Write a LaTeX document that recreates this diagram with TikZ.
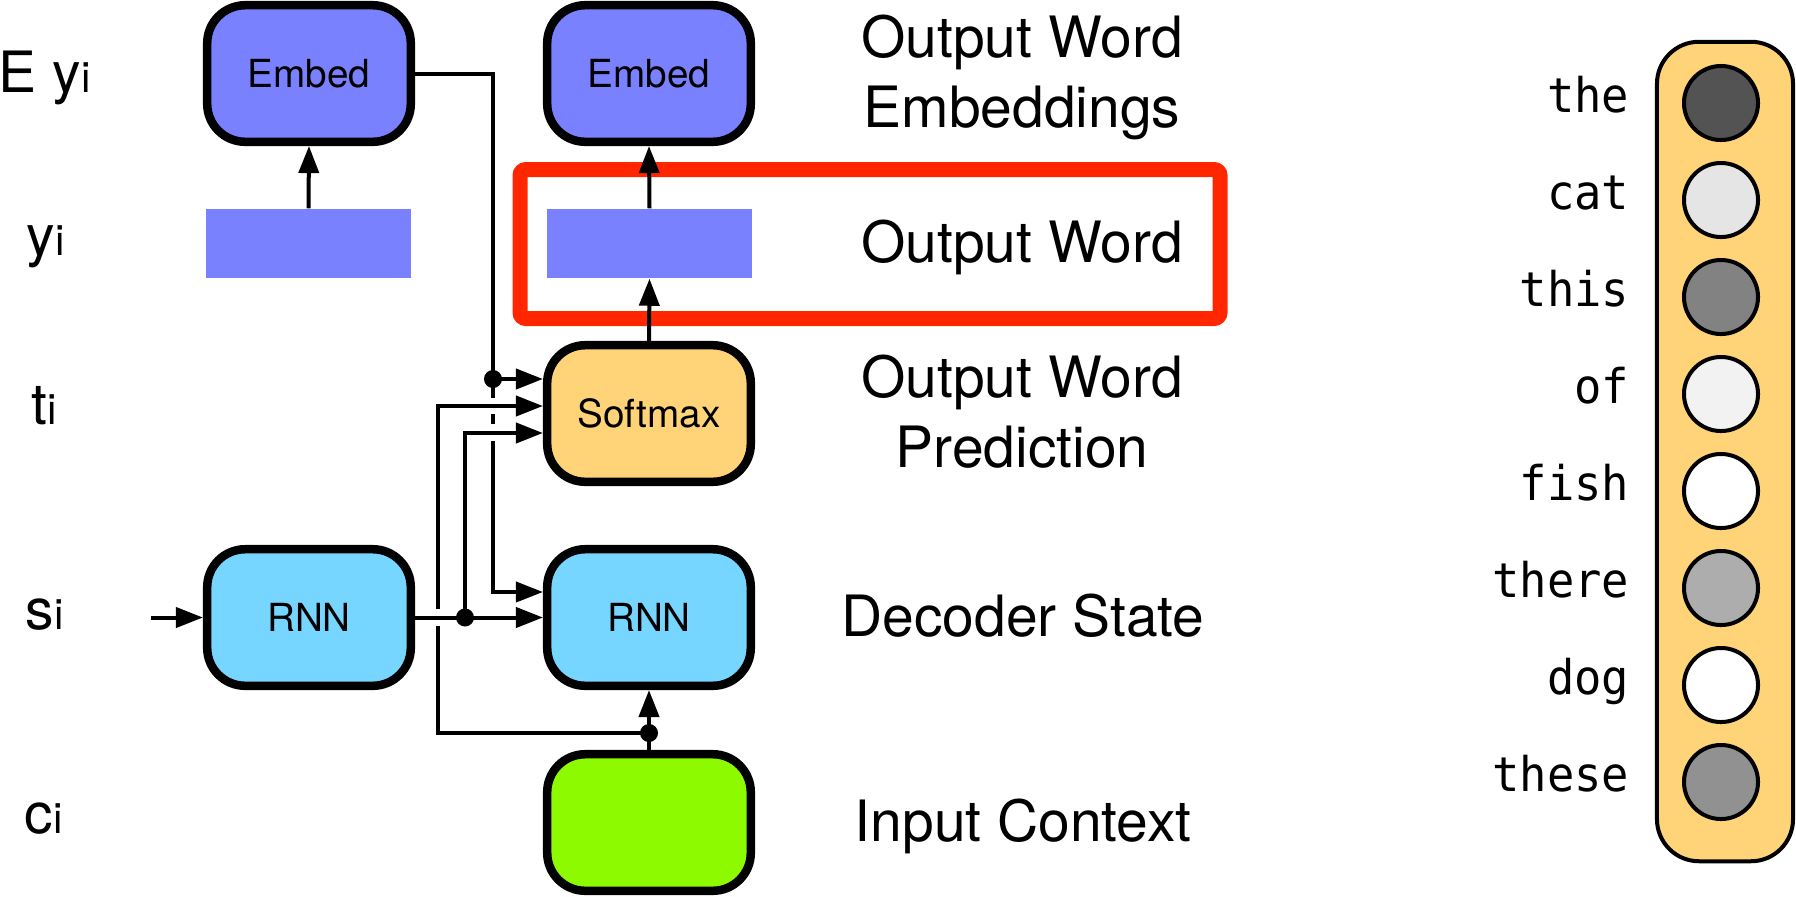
\documentclass[tikz,border=0pt]{standalone}
\usepackage{fontspec}
\setmainfont{TeX Gyre Heros}
\newfontfamily\monoft[FakeStretch=0.95]{DejaVu Sans Mono}
\usetikzlibrary{arrows.meta}
\definecolor{orchid}{HTML}{7A81FF}
\definecolor{skyc}{HTML}{76D6FF}
\definecolor{cantaloupe}{HTML}{FFD479}
\definecolor{limeg}{HTML}{8EFA00}
\definecolor{redc}{HTML}{FF2600}
\tikzset{
  blk/.style={draw=black, line width=0.085cm, rounded corners=0.38cm,
    minimum width=2.035cm, minimum height=1.365cm, inner sep=0pt,
    font=\fontsize{11}{13}\selectfont},
  vec/.style={fill=orchid, minimum width=2.05cm, minimum height=0.69cm, inner sep=0pt},
  conn/.style={line width=0.04cm},
  arr/.style={-{Triangle[length=0.27cm,width=0.2cm]}},
  lab/.style={anchor=base, inner sep=0pt, font=\fontsize{16.2}{19}\selectfont},
  var/.style={anchor=base west, inner sep=0pt, font=\fontsize{16.2}{19}\selectfont},
  word/.style={anchor=base east, inner sep=0pt, font=\monoft\fontsize{13.6}{16}\selectfont},
  cell/.style={circle, draw=black, line width=0.04cm, minimum size=0.74cm, inner sep=0pt},
  gapmark/.style={fill=white},
  junction/.style={fill=black},
}
\newcommand{\sub}[1]{{\fontsize{12}{14}\selectfont #1}}
\begin{document}
\begin{tikzpicture}[x=0.01cm, y=-0.01cm]
\useasboundingbox (0,0) rectangle (1796,896);

% left variable labels
\node[var] (lEy) at (-2,92) {E y\sub{i}};
\node[var] (ly) at (26,255) {y\sub{i}};
\node[var] (lt) at (31,424) {t\sub{i}};
\node[var] (ls) at (25,629) {s\sub{i}};
\node[var] (lc) at (24,833) {c\sub{i}};

% red highlight
\draw[draw=redc, line width=0.15cm, rounded corners=0.06cm] (520,169.5) rectangle (1220,318.5);

% boxes
\node[blk, fill=orchid] (emL) at (309,73.5) {Embed};
\node[blk, fill=orchid] (emR) at (649,73.5) {Embed};
\node[vec] (yL) at (308.5,243.5) {};
\node[vec] (yR) at (649.5,243.5) {};
\node[blk, fill=cantaloupe] (sm) at (649,413.5) {Softmax};
\node[blk, fill=skyc] (rnnL) at (309,617.5) {RNN};
\node[blk, fill=skyc] (rnnR) at (649,617.5) {RNN};
\node[blk, fill=limeg] (ctx) at (649,822.5) {};

% right descriptions
\node[lab] (t1a) at (1022,57) {Output Word};
\node[lab] (t1b) at (1022,127) {Embeddings};
\node[lab] (t2) at (1022,262) {Output Word};
\node[lab] (t3a) at (1022,397) {Output Word};
\node[lab] (t3b) at (1022,467) {Prediction};
\node[lab] (t4) at (1023,636) {Decoder State};
\node[lab] (t5) at (1023,841) {Input Context};

% junction coordinates
\coordinate (ja) at (493,379);
\coordinate (aTurn) at (493,592);
\coordinate (jb) at (465,617.5);
\coordinate (bTurn) at (465,433);
\coordinate (jc) at (649,733);
\coordinate (cTurn) at (438,406);
\coordinate (sin) at (151,617.5);

% simple arrows
\draw[conn, arr] (yL.north) -- (emL.south);
\draw[conn, arr] (yR.north) -- (emR.south);
\draw[conn, arr] (sm.north) -- (yR.south);
\draw[conn, arr] (sin) -- (rnnL.west);
\draw[conn, arr] (ctx.north) -- (rnnR.south);

% embedding feedback path
\draw[conn, arr] (emL.east) -| (aTurn) -- (aTurn -| rnnR.west);
\draw[conn, arr] (ja) -- (ja -| sm.west);
\fill[junction] (ja) circle[radius=0.09cm];

% crossing gaps on the embedding path
\fill[gapmark] (487,398) rectangle (499,414);
\fill[gapmark] (487,424) rectangle (499,441);

% context path
\draw[conn, arr] (jc) -| (cTurn) -- (cTurn -| sm.west);
\fill[junction] (jc) circle[radius=0.09cm];

% crossing gap on the context path
\fill[gapmark] (432,609) rectangle (444,626);

% decoder state path
\draw[conn, arr] (rnnL.east) -- (rnnR.west);
\draw[conn, arr] (jb) |- (bTurn -| sm.west);
\fill[junction] (jb) circle[radius=0.09cm];

% vocabulary distribution
\node[draw=black, fill=cantaloupe, line width=0.04cm, rounded corners=0.42cm,
  minimum width=1.36cm, minimum height=8.19cm, inner sep=0pt] (vocab) at (1725,451.5) {};
\node[cell, fill=black!67.5] (c1) at (1721,103) {};
\node[cell, fill=black!10] (c2) at (1721,200) {};
\node[cell, fill=black!49] (c3) at (1721,297) {};
\node[cell, fill=black!5] (c4) at (1721,394) {};
\node[cell, fill=white] (c5) at (1721,491) {};
\node[cell, fill=black!32] (c6) at (1721,588) {};
\node[cell, fill=white] (c7) at (1721,685) {};
\node[cell, fill=black!43] (c8) at (1721,782) {};
\node[word] (w1) at (1630,112) {the};
\node[word] (w2) at (1630,209) {cat};
\node[word] (w3) at (1630,306) {this};
\node[word] (w4) at (1630,403) {of};
\node[word] (w5) at (1630,500) {fish};
\node[word] (w6) at (1630,597) {there};
\node[word] (w7) at (1630,694) {dog};
\node[word] (w8) at (1630,791) {these};
\end{tikzpicture}
\end{document}
